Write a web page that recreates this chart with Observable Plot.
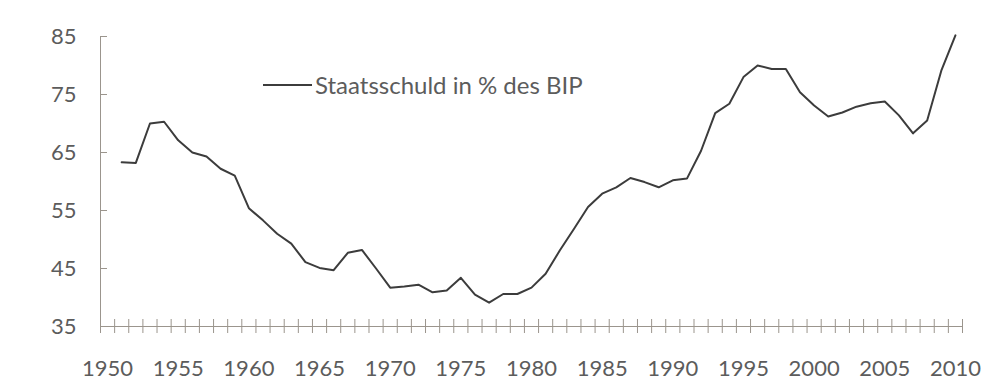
<!DOCTYPE html>
<html>
<head>
<meta charset="utf-8">
<script src="https://cdn.jsdelivr.net/npm/d3@7"></script>
<script src="https://cdn.jsdelivr.net/npm/@observablehq/plot@0.6"></script>
<style>
  html, body { margin: 0; padding: 0; background: #fff; }
  #chart svg { display: block; }
</style>
</head>
<body>
<div id="chart"></div>
<script>
// Data: Staatsschuld in % des BIP, 1951–2010
const years = d3.range(1951, 2011);
const debt = [
  63.3, 63.2, 70.0, 70.3, 67.1, 65.0, 64.3, 62.2, 61.0, 55.4,
  53.3, 51.0, 49.3, 46.1, 45.1, 44.7, 47.7, 48.2, 45.0, 41.7,
  41.9, 42.2, 40.9, 41.2, 43.4, 40.5, 39.1, 40.6, 40.6, 41.7,
  44.1, 48.1, 51.8, 55.6, 57.9, 59.0, 60.6, 59.9, 59.0, 60.2,
  60.5, 65.3, 71.8, 73.4, 78.0, 80.0, 79.4, 79.4, 75.4, 73.1,
  71.2, 71.9, 72.9, 73.5, 73.8, 71.4, 68.3, 70.5, 79.1, 85.2
];
const yTicks = [35, 45, 55, 65, 75, 85];
const xLabels = [1950, 1955, 1960, 1965, 1970, 1975, 1980, 1985, 1990, 1995, 2000, 2005, 2010];
const firstCategory = 1950;
const lastCategory = 2010;
const seriesLabel = "Staatsschuld in % des BIP";

const data = years.map((year, i) => ({year, value: debt[i]}));
// category boundaries (Excel-style axis: ticks between categories)
const boundaries = d3.range(firstCategory - 0.5, lastCategory + 1, 1);
const xMin = firstCategory - 0.5, xMax = lastCategory + 0.5;
const yMin = d3.min(yTicks), yMax = d3.max(yTicks);

const FONT = "Lato, 'Open Sans', sans-serif";
const TEXT = "#5c5c5c";
const AXIS = "#9b958d";
const LINE = "#3c3c3c";

const legend = (index, scales, values, dimensions) => {
  const g = d3.create("svg:g");
  const x0 = dimensions.marginLeft + 163;
  const yc = dimensions.marginTop + 49;
  g.append("line")
    .attr("x1", x0).attr("x2", x0 + 49)
    .attr("y1", yc).attr("y2", yc)
    .attr("stroke", LINE).attr("stroke-width", 2);
  g.append("text")
    .attr("x", x0 + 52).attr("y", yc)
    .attr("dy", "0.36em")
    .attr("text-anchor", "start")
    .attr("fill", TEXT)
    .attr("font-family", FONT)
    .attr("font-size", 24)
    .text(seriesLabel);
  return g.node();
};

const chart = Plot.plot({
  width: 1000,
  height: 381,
  marginLeft: 100,
  marginRight: 38,
  marginTop: 36,
  marginBottom: 55,
  style: {fontFamily: FONT, background: "#fff", color: TEXT},
  x: {domain: [xMin, xMax], axis: null},
  y: {domain: [yMin, yMax], axis: null},
  marks: [
    // y axis line and ticks (ticks pointing inward)
    Plot.ruleX([xMin], {x: d => d, y1: () => yMin, y2: () => yMax, stroke: AXIS, strokeWidth: 1}),
    Plot.ruleY(yTicks, {y: d => d, x1: () => xMin, x2: () => xMin, insetRight: -7, stroke: AXIS, strokeWidth: 1}),
    // x axis line and crossing category ticks
    Plot.ruleY([yMin], {y: d => d, x1: () => xMin, x2: () => xMax, stroke: AXIS, strokeWidth: 1}),
    Plot.ruleX(boundaries, {x: d => d, y1: () => yMin, y2: () => yMin, insetTop: -7, insetBottom: -7, stroke: AXIS, strokeWidth: 1}),
    // labels
    Plot.axisY(yTicks, {ticks: yTicks, tickSize: 0, tickPadding: 24, fontSize: 22, fill: TEXT, label: null}),
    Plot.axisX(xLabels, {ticks: xLabels, tickSize: 0, tickPadding: 34, fontSize: 22, fill: TEXT, label: null, tickFormat: d => String(d)}),
    // series
    Plot.line(data, {x: "year", y: "value", stroke: LINE, strokeWidth: 2, strokeLinejoin: "round"}),
    legend
  ]
});
document.getElementById("chart").append(chart);
</script>
</body>
</html>
